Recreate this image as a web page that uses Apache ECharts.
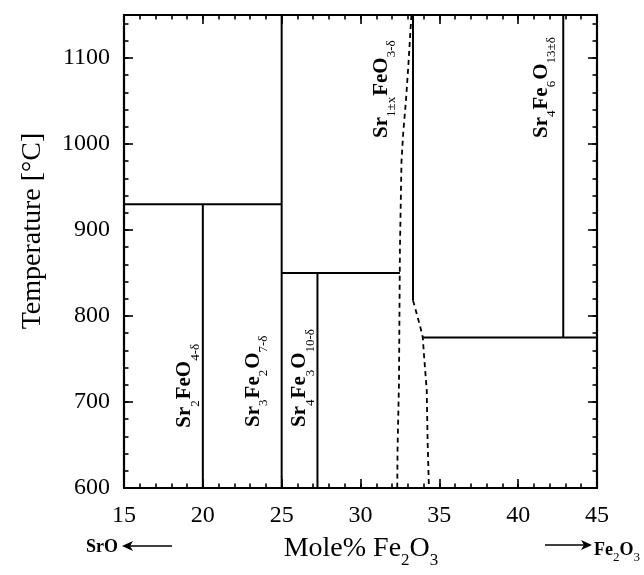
<!DOCTYPE html>
<html><head><meta charset="utf-8">
<script src="https://cdn.jsdelivr.net/npm/echarts@6/dist/echarts.min.js"></script>
<style>html,body{margin:0;padding:0;background:#fff}#c{width:644px;height:575px}</style>
</head><body><div id="c"></div>
<script>
// ---- axis ranges / ticks ----
const xRange = [15, 45];
const yRange = [600, 1150];
const xMajorStep = 5, xMinorStep = 1;
const yMajorStep = 100, yMinorStep = 20;

// ---- phase boundaries: [mole% Fe2O3, temperature °C] ----
const boundary930 = [[15, 930], [25, 930]];
const sr2FeO4Line = [[20, 600], [20, 930]];
const sr3Fe2O7Line = [[25, 600], [25, 1150]];
const boundary850 = [[25, 850], [32.5, 850]];
const sr4Fe3O10Line = [[27.27, 600], [27.27, 850]];
const srFeO3Line = [[33.33, 1150], [33.33, 818]];
const boundary775 = [[33.95, 775], [45, 775]];
const sr4Fe6O13Line = [[42.86, 775], [42.86, 1150]];
const solvusLeft = [[33.23, 1150], [33.03, 1090], [32.88, 1050], [32.71, 1013], [32.6, 980], [32.5, 877], [32.44, 722], [32.35, 645], [32.33, 600]];
const solvusRight = [[33.33, 818], [33.56, 803], [33.81, 786], [33.95, 775], [34.05, 749], [34.2, 714], [34.26, 652], [34.34, 600]];

// ---- phase labels ----
const phaseTexts = [
  '{m|Sr}{s|2}{m|FeO}{s|4-δ}',
  '{m|Sr}{s|3}{m|Fe}{s|2}{m|O}{s|7-δ}',
  '{m|Sr}{s|4}{m|Fe}{s|3}{m|O}{s|10-δ}',
  '{m|Sr}{s|1±x}{m|FeO}{s|3-δ}',
  '{m|Sr}{s|4}{m|Fe}{s|6}{m|O}{s|13±δ}'
];
const phaseAnchorX = [18.87, 23.2, 26.16, 31.33, 41.47];
const phaseAnchorY = [670, 671, 671, 1007, 1007];

const serif = 'Liberation Serif';
const solid = [boundary930, sr2FeO4Line, sr3Fe2O7Line, boundary850, sr4Fe3O10Line, srFeO3Line, boundary775, sr4Fe6O13Line];
const dashed = [solvusLeft, solvusRight];

function xAx(pos, step, len, labels, line) {
  return {
    type: 'value', position: pos, min: xRange[0], max: xRange[1], interval: step,
    axisLine: { show: line, onZero: false, lineStyle: { color: '#000', width: 2.2 } },
    axisTick: { show: true, inside: true, length: len, lineStyle: { color: '#000', width: 1.6 } },
    axisLabel: { show: labels, margin: 16, color: '#000', fontFamily: serif, fontSize: 24 },
    splitLine: { show: false }
  };
}
function yAx(pos, step, len, labels, line) {
  return {
    type: 'value', position: pos, min: yRange[0], max: yRange[1], interval: step,
    axisLine: { show: line, onZero: false, lineStyle: { color: '#000', width: 2.2 } },
    axisTick: { show: true, inside: true, length: len, lineStyle: { color: '#000', width: 1.6 } },
    axisLabel: { show: labels, margin: 14, color: '#000', fontFamily: serif, fontSize: 24,
      formatter: v => (v % yMajorStep === 0 ? String(v) : '') },
    splitLine: { show: false }
  };
}

const series = [];
solid.forEach(d => series.push({ type: 'line', data: d, xAxisIndex: 0, yAxisIndex: 0, symbol: 'none', silent: true,
  lineStyle: { color: '#000', width: 2 } }));
dashed.forEach(d => series.push({ type: 'line', data: d, xAxisIndex: 0, yAxisIndex: 0, symbol: 'none', silent: true,
  lineStyle: { color: '#000', width: 1.8, type: [5, 4] } }));

const chart = echarts.init(document.getElementById('c'));
chart.setOption({
  animation: false,
  backgroundColor: '#fff',
  grid: { left: 124, right: 47, top: 15, bottom: 87, containLabel: false },
  xAxis: [xAx('bottom', xMajorStep, 9, true, true), xAx('bottom', xMinorStep, 4.5, false, false),
          xAx('top', xMajorStep, 9, false, true), xAx('top', xMinorStep, 4.5, false, false)],
  yAxis: [yAx('left', yMajorStep, 9, true, true), yAx('left', yMinorStep, 4.5, false, false),
          yAx('right', yMajorStep, 9, false, true), yAx('right', yMinorStep, 4.5, false, false)],
  series: series
});

const rich = {
  m: { fontFamily: serif, fontWeight: 'bold', fontSize: 21, lineHeight: 34, fill: '#000' },
  s: { fontFamily: serif, fontSize: 13, lineHeight: 13, verticalAlign: 'bottom', fill: '#000', padding: [0, 1, 0, 0] }
};
const graphics = [];
phaseTexts.forEach((t, i) => {
  const p = chart.convertToPixel({ seriesIndex: 0 }, [phaseAnchorX[i], phaseAnchorY[i]]);
  graphics.push({ type: 'text', x: p[0] - 17, y: p[1], rotation: Math.PI / 2, silent: true,
    style: { text: t, rich: rich, align: 'left', verticalAlign: 'top' } });
});
// axis titles
graphics.push({ type: 'text', x: 33, y: 231, rotation: Math.PI / 2, silent: true,
  style: { text: 'Temperature [°C]', font: '28px "Liberation Serif"', fill: '#000', align: 'center', verticalAlign: 'middle' } });
graphics.push({ type: 'text', x: 361, y: 549, silent: true,
  style: { text: '{t|Mole% Fe}{u|2}{t|O}{u|3}', align: 'center', verticalAlign: 'middle',
    rich: { t: { fontFamily: serif, fontSize: 28, lineHeight: 40, fill: '#000' },
            u: { fontFamily: serif, fontSize: 17, lineHeight: 17, verticalAlign: 'bottom', fill: '#000' } } } });
// SrO <- arrow
graphics.push({ type: 'text', x: 118, y: 547, silent: true,
  style: { text: 'SrO', font: 'bold 18px "Liberation Serif"', fill: '#000', align: 'right', verticalAlign: 'middle' } });
graphics.push({ type: 'line', silent: true, shape: { x1: 128, y1: 546, x2: 172, y2: 546 }, style: { stroke: '#000', lineWidth: 1.5 } });
graphics.push({ type: 'polygon', silent: true, shape: { points: [[122, 546], [133, 541], [130, 546], [133, 551]] }, style: { fill: '#000' } });
// -> Fe2O3 arrow
graphics.push({ type: 'line', silent: true, shape: { x1: 545, y1: 545, x2: 586, y2: 545 }, style: { stroke: '#000', lineWidth: 1.5 } });
graphics.push({ type: 'polygon', silent: true, shape: { points: [[592, 545], [581, 540], [584, 545], [581, 550]] }, style: { fill: '#000' } });
graphics.push({ type: 'text', x: 594, y: 550, silent: true,
  style: { text: '{b|Fe}{c|2}{b|O}{c|3}', align: 'left', verticalAlign: 'middle',
    rich: { b: { fontFamily: serif, fontWeight: 'bold', fontSize: 18, lineHeight: 28, fill: '#000' },
            c: { fontFamily: serif, fontSize: 13, lineHeight: 13, verticalAlign: 'bottom', fill: '#000' } } } });
chart.setOption({ graphic: graphics });
</script>
</body></html>
